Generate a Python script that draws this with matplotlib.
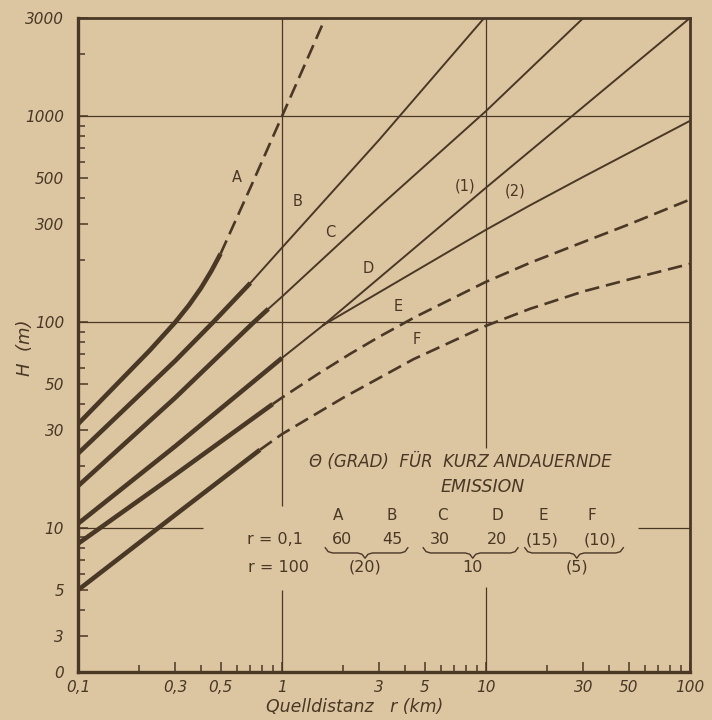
import matplotlib
matplotlib.use('Agg')
import matplotlib.pyplot as plt
from matplotlib.ticker import FixedLocator, FixedFormatter, LogLocator, NullFormatter

# source distance r (km) vs. height H (m)
r_A = [0.1, 0.225, 0.3, 0.35, 0.4, 0.45, 0.5, 0.7, 1.0, 1.3, 1.63]
H_A = [32, 73, 100, 121, 146, 177, 215, 450, 1000, 1800, 3000]

r_B = [0.1, 0.3, 0.46, 0.7, 1.0, 3.0, 9.8]
H_B = [23, 65, 100, 155, 230, 770, 3000]

r_C = [0.1, 0.3, 0.72, 0.857, 1.0, 3.0, 10, 30]
H_C = [16, 43, 99, 116, 133, 364, 1060, 3000]

r_D = [0.1, 0.3, 1.0, 1.6]
H_D = [10.5, 25, 67, 97]
r_D1 = [1.6, 10, 100]
H_D1 = [97, 450, 3000]
r_D2 = [1.6, 10, 16.4, 30, 100]
H_D2 = [97, 281, 369, 508, 950]

r_E = [0.1, 0.3, 0.9, 1.0, 1.5, 2.15, 3.0, 4.5, 10, 16.4, 30, 50, 100]
H_E = [8.4, 18.2, 40, 43, 56, 70, 85, 106, 157, 194, 245, 298, 394]

r_F = [0.1, 0.3, 0.78, 1.0, 2.0, 4.4, 10, 16.4, 30, 50, 100]
H_F = [5.0, 11.6, 24, 28.6, 43, 66, 96, 116, 141, 161, 192]

x_ticks = [0.1, 0.3, 0.5, 1, 3, 5, 10, 30, 50, 100]
x_ticklabels = ['0,1', '0,3', '0,5', '1', '3', '5', '10', '30', '50', '100']
y_ticks = [2, 3, 5, 10, 30, 50, 100, 300, 500, 1000, 3000]
y_ticklabels = ['0', '3', '5', '10', '30', '50', '100', '300', '500', '1000', '3000']

curve_names = ['A', 'B', 'C', 'D', 'E', 'F', '(1)', '(2)']
name_r = [0.60, 1.19, 1.72, 2.64, 3.72, 4.57, 7.9, 13.9]
name_H = [503, 385, 272, 183, 119, 82, 457, 432]

theta_classes = ['A', 'B', 'C', 'D', 'E', 'F']
theta_short = ['60', '45', '30', '20', '(15)', '(10)']
theta_long = ['(20)', '10', '(5)']

paper = '#dcc5a1'
ink = '#4a3826'

fig = plt.figure(figsize=(7.12, 7.2), dpi=100, facecolor=paper)
ax = fig.add_axes([78/712, 48/720, 612/712, 654/720], facecolor=paper)
ax.set_xscale('log')
ax.set_yscale('log')
ax.set_xlim(0.1, 100)
ax.set_ylim(2, 3000)

# grid lines, broken where the table sits
gkw = dict(color=ink, lw=0.9, zorder=1)
ax.hlines([100, 1000], 0.1, 100, **gkw)
ax.hlines(10, 0.1, 0.41, **gkw)
ax.hlines(10, 55.6, 100, **gkw)
ax.vlines(1, 12.8, 3000, **gkw)
ax.vlines(1, 2, 5.0, **gkw)
ax.vlines(10, 24.5, 3000, **gkw)
ax.vlines(10, 2, 5.2, **gkw)

thick_n = {'A': 7, 'B': 4, 'C': 4, 'D': 3, 'E': 3, 'F': 3}
tail_dashed = {'A': True, 'B': False, 'C': False, 'D': False, 'E': True, 'F': True}
series = {'A': (r_A, H_A), 'B': (r_B, H_B), 'C': (r_C, H_C),
          'D': (r_D, H_D), 'E': (r_E, H_E), 'F': (r_F, H_F)}

for key, (rs, hs) in series.items():
    n = thick_n[key]
    ax.plot(rs[:n], hs[:n], color=ink, lw=3.3, solid_capstyle='butt',
            solid_joinstyle='round', zorder=3)
    if tail_dashed[key]:
        ax.plot(rs[n - 1:], hs[n - 1:], color=ink, lw=1.9, dashes=(5.5, 2.6),
                dash_capstyle='butt', zorder=3)
    else:
        ax.plot(rs[n - 1:], hs[n - 1:], color=ink, lw=1.4, zorder=3)

ax.plot(r_D1, H_D1, color=ink, lw=1.4, zorder=3)
ax.plot(r_D2, H_D2, color=ink, lw=1.4, zorder=3)

for name, rr, hh in zip(curve_names, name_r, name_H):
    ax.text(rr, hh, name, color=ink, fontsize=10.5, ha='center', va='center')

# ticks and frame
ax.xaxis.set_major_locator(FixedLocator(x_ticks))
ax.xaxis.set_major_formatter(FixedFormatter(x_ticklabels))
ax.xaxis.set_minor_locator(LogLocator(base=10, subs=range(2, 10)))
ax.xaxis.set_minor_formatter(NullFormatter())
ax.yaxis.set_major_locator(FixedLocator(y_ticks))
ax.yaxis.set_major_formatter(FixedFormatter(y_ticklabels))
ax.yaxis.set_minor_locator(LogLocator(base=10, subs=range(2, 10)))
ax.yaxis.set_minor_formatter(NullFormatter())
ax.tick_params(which='both', direction='in', color=ink, width=1.1,
               labelcolor=ink, labelsize=11)
ax.tick_params(which='major', length=7)
ax.tick_params(which='minor', length=5)
ax.tick_params(axis='y', pad=10)
ax.tick_params(axis='x', pad=6)
for lab in ax.get_xticklabels() + ax.get_yticklabels():
    lab.set_style('italic')
for side in ['left', 'bottom']:
    ax.spines[side].set_linewidth(2.4)
for side in ['top', 'right']:
    ax.spines[side].set_linewidth(2.0)
for sp in ax.spines.values():
    sp.set_color(ink)

fig.text(25/712, 1 - 348/720, 'H  (m)', rotation=90, color=ink, fontsize=13,
         style='italic', ha='center', va='center')
fig.text(355/712, 1 - 707/720, 'Quelldistanz   r (km)', color=ink, fontsize=12.5,
         style='italic', ha='center', va='center')

# table of sigma-theta values
tkw = dict(transform=ax.transAxes, color=ink, ha='center', va='center')
ax.text(0.624, 0.321, 'Θ (GRAD)  FÜR  KURZ ANDAUERNDE', fontsize=12, style='italic', **tkw)
ax.text(0.662, 0.283, 'EMISSION', fontsize=12.5, style='italic', **tkw)
class_x = [0.425, 0.513, 0.595, 0.685, 0.760, 0.840]
short_x = [0.431, 0.513, 0.592, 0.685, 0.758, 0.853]
for name, xx in zip(theta_classes, class_x):
    ax.text(xx, 0.240, name, fontsize=11, **tkw)
for val, xx in zip(theta_short, short_x):
    ax.text(xx, 0.202, val, fontsize=11.5, **tkw)
for val, xx in zip(theta_long, [0.469, 0.645, 0.815]):
    ax.text(xx, 0.160, val, fontsize=11.5, **tkw)
ax.text(0.322, 0.202, 'r = 0,1', fontsize=11.5, **tkw)
ax.text(0.327, 0.160, 'r = 100', fontsize=11.5, **tkw)


def brace(x0, x1, xm, y, h=0.008, q=0.012):
    xs = [x0, x0 + q * 0.4, x0 + q, xm - q, xm - q * 0.4, xm,
          xm + q * 0.4, xm + q, x1 - q, x1 - q * 0.4, x1]
    ys = [y + h, y + h * 0.25, y, y, y - h * 0.25, y - h,
          y - h * 0.25, y, y, y + h * 0.25, y + h]
    ax.plot(xs, ys, transform=ax.transAxes, color=ink, lw=1.0)


brace(0.404, 0.539, 0.469, 0.182)
brace(0.564, 0.719, 0.645, 0.182)
brace(0.730, 0.891, 0.815, 0.182)

plt.savefig('out.png', dpi=100, facecolor=paper)
